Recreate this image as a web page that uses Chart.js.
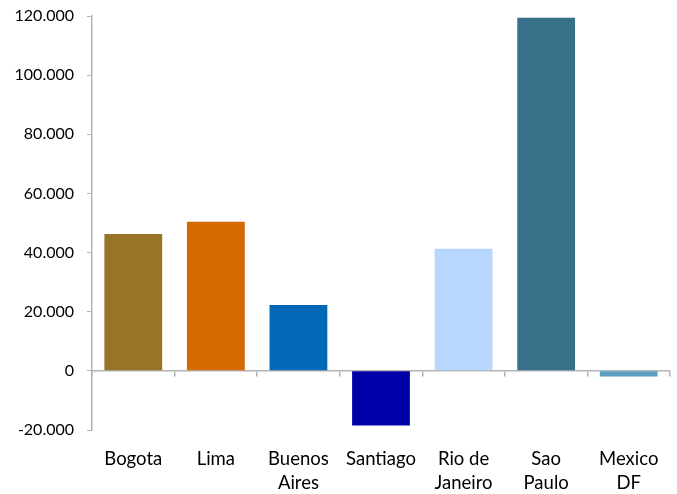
<!DOCTYPE html>
<html>
<head>
<meta charset="utf-8">
<script src="https://cdn.jsdelivr.net/npm/chart.js@4.4.1/dist/chart.umd.min.js"></script>
<style>
  html, body { margin: 0; padding: 0; background: #fff; }
  canvas { display: block; }
</style>
</head>
<body>
<canvas id="c" width="677" height="494"></canvas>
<script>
const categories = [["Bogota"], ["Lima"], ["Buenos", "Aires"], ["Santiago"], ["Rio de", "Janeiro"], ["Sao", "Paulo"], ["Mexico", "DF"]];
const values = [46300, 50400, 22300, -18500, 41300, 119400, -1900];
const barColors = ["#977428", "#D56B00", "#0068B4", "#0000AA", "#B7D7FF", "#367089", "#5BA0C2"];
const yMin = -20000, yMax = 120000, yStep = 20000;

const axisColor = "#B3B3B3";

function fmt(v) {
  const s = Math.abs(v).toString().replace(/\B(?=(\d{3})+(?!\d))/g, ".");
  return (v < 0 ? "-" : "") + s;
}

new Chart(document.getElementById("c"), {
  type: "bar",
  data: {
    labels: categories,
    datasets: [{
      data: values,
      backgroundColor: barColors,
      borderWidth: 0,
      barPercentage: 0.7,
      categoryPercentage: 1.0
    }]
  },
  options: {
    responsive: false,
    animation: false,
    layout: { padding: { top: 16, right: 7, bottom: 0, left: 0 } },
    plugins: { legend: { display: false }, tooltip: { enabled: false } },
    scales: {
      x: {
        type: "category",
        position: "bottom",
        offset: true,
        grid: { display: false, drawTicks: false },
        border: { display: false },
        ticks: {
          color: "#000",
          font: { family: "Lato", size: 18.5, lineHeight: 1.3 },
          padding: 17,
          maxRotation: 0,
          autoSkip: false
        },
        afterFit: s => { s.height = 64; }
      },
      x2: {
        type: "category",
        labels: categories,
        position: { y: 0 },
        offset: true,
        grid: { offset: true, drawOnChartArea: false, drawTicks: true, tickLength: 5, color: axisColor, lineWidth: 1.5 },
        border: { display: true, color: axisColor, width: 1.5 },
        ticks: { display: false }
      },
      y: {
        min: yMin,
        max: yMax,
        grid: { drawOnChartArea: false, drawTicks: true, tickLength: 5, color: axisColor, lineWidth: 1 },
        border: { display: true, color: axisColor, width: 1.5 },
        ticks: {
          stepSize: yStep,
          color: "#000",
          font: { family: "Lato", size: 16 },
          padding: 13,
          callback: v => fmt(v)
        },
        afterFit: s => { s.width = 92; s.paddingTop = 0; s.paddingBottom = 0; }
      }
    }
  }
});
</script>
</body>
</html>
